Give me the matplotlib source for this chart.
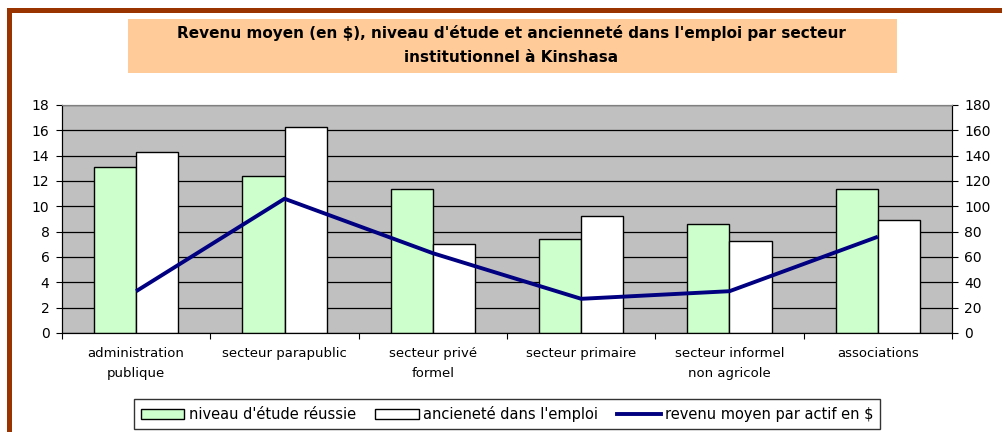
import matplotlib
matplotlib.use("Agg")
import matplotlib.pyplot as plt
from matplotlib.patches import Rectangle, Patch
from matplotlib.lines import Line2D
import numpy as np

categories = ["administration\npublique", "secteur parapublic", "secteur privé\nformel",
              "secteur primaire", "secteur informel\nnon agricole", "associations"]
niveau_etude = [13.1, 12.4, 11.35, 7.4, 8.6, 11.35]
anciennete = [14.3, 16.3, 7.0, 9.2, 7.3, 8.95]
revenu = [33, 106, 63, 27, 33, 76]
left_ticks = list(range(0, 20, 2))
right_ticks = list(range(0, 200, 20))

title = "Revenu moyen (en $), niveau d'étude et ancienneté dans l'emploi par secteur\ninstitutionnel à Kinshasa"
legend_labels = ["niveau d'étude réussie", "ancieneté dans l'emploi", "revenu moyen par actif en $"]

W, H = 1003, 432
plt.rcParams['font.family'] = ['DejaVu Sans']
fig = plt.figure(figsize=(W / 100, H / 100), dpi=100)

def fx(px):
    return px / W

def fy(py):
    return 1 - py / H

# brown frame
fig.add_artist(Rectangle((fx(7), fy(13)), fx(W) - fx(7), 5 / H, transform=fig.transFigure,
                         facecolor="#993300", edgecolor="none"))
fig.add_artist(Rectangle((fx(7), 0), 5 / W, fy(8), transform=fig.transFigure,
                         facecolor="#993300", edgecolor="none"))

# title box
fig.add_artist(Rectangle((fx(128), fy(73)), (897 - 128) / W, (73 - 19) / H, transform=fig.transFigure,
                         facecolor="#FFCC99", edgecolor="none"))
fig.text(fx(511), fy(45), title, ha="center", va="center", fontsize=11, fontweight="bold",
         linespacing=1.7)

ax_l, ax_r, ax_t, ax_b = 62, 952, 105, 333
ax = fig.add_axes([fx(ax_l), fy(ax_b), (ax_r - ax_l) / W, (ax_b - ax_t) / H])
ax.set_facecolor("#C0C0C0")
x = np.arange(len(categories))
w = 0.285
ax.bar(x - w / 2, niveau_etude, w, color="#CCFFCC", edgecolor="black", linewidth=1, zorder=3)
ax.bar(x + w / 2, anciennete, w, color="white", edgecolor="black", linewidth=1, zorder=3)
ax.set_xlim(-0.5, len(categories) - 0.5)
ax.set_ylim(0, 18)
ax.set_yticks(left_ticks)
ax.yaxis.grid(True, color="black", linewidth=0.9, zorder=1)
ax.set_axisbelow(True)
ax.set_xticks(np.arange(-0.5, len(categories) + 0.5, 1))
ax.set_xticklabels([])
ax.set_xticks(x, minor=True)
ax.set_xticklabels(categories, minor=True, fontsize=9.5, linespacing=1.75)
ax.tick_params(axis="x", which="minor", length=0, pad=10)
ax.tick_params(axis="x", which="major", length=4, direction="out", color="black")
ax.tick_params(axis="y", length=4, direction="out", labelsize=10, pad=5)
ax.spines["top"].set_color("#808080")
for s in ["left", "bottom", "right"]:
    ax.spines[s].set_color("black")

ax2 = ax.twinx()
ax2.plot(x, revenu, color="#000080", linewidth=2.8, solid_capstyle="butt", zorder=5)
ax2.set_ylim(0, 180)
ax2.set_yticks(right_ticks)
ax2.tick_params(axis="y", length=4, direction="out", labelsize=10, pad=5)
ax2.spines["top"].set_color("#808080")

handles = [Patch(facecolor="#CCFFCC", edgecolor="black", linewidth=1),
           Patch(facecolor="white", edgecolor="black", linewidth=1),
           Line2D([], [], color="#000080", linewidth=2.8)]
leg = fig.legend(handles, legend_labels, loc="center", bbox_to_anchor=(fx(507), fy(414)),
                 ncol=3, frameon=True, fancybox=False, edgecolor="black", fontsize=10.5,
                 handlelength=3.0, handleheight=0.7, handletextpad=0.3, columnspacing=1.3,
                 borderpad=0.45)
leg.get_frame().set_linewidth(1)

fig.savefig("out.png", dpi=100, facecolor="white")
